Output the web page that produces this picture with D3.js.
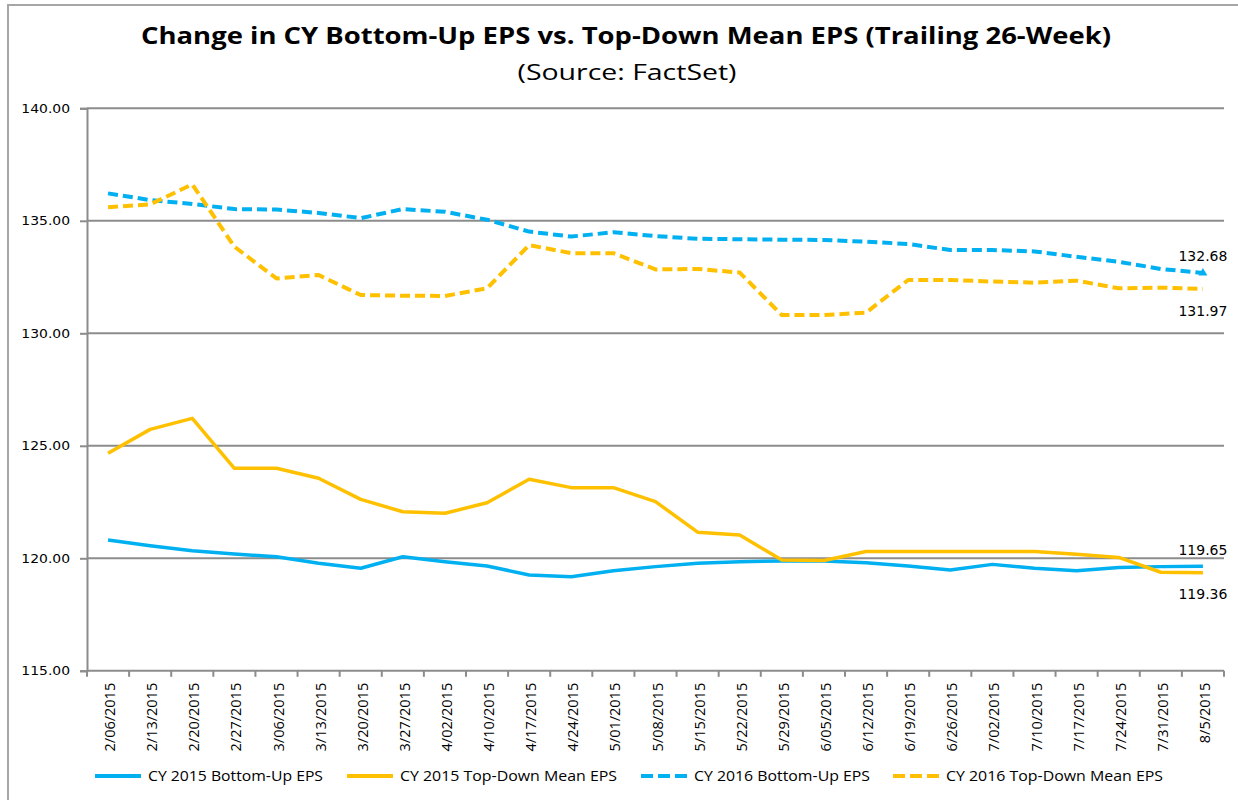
<!DOCTYPE html>
<html>
<head>
<meta charset="utf-8">
<script src="https://cdn.jsdelivr.net/npm/d3@7"></script>
<style>
  body { margin: 0; background: #fff; }
  text { fill: #000; }
</style>
</head>
<body>
<div id="chart"></div>
<script>
const dates = ["2/06/2015","2/13/2015","2/20/2015","2/27/2015","3/06/2015","3/13/2015","3/20/2015",
  "3/27/2015","4/02/2015","4/10/2015","4/17/2015","4/24/2015","5/01/2015","5/08/2015","5/15/2015",
  "5/22/2015","5/29/2015","6/05/2015","6/12/2015","6/19/2015","6/26/2015","7/02/2015","7/10/2015",
  "7/17/2015","7/24/2015","7/31/2015","8/5/2015"];

const cy2015BottomUp = [120.81,120.56,120.34,120.19,120.07,119.78,119.56,120.07,119.85,119.66,119.26,119.18,
  119.45,119.63,119.78,119.85,119.88,119.88,119.80,119.66,119.48,119.73,119.56,119.45,119.59,119.63,119.65];
const cy2015TopDown = [124.67,125.73,126.22,124.00,124.00,123.56,122.62,122.07,122.00,122.47,123.51,123.14,
  123.14,122.52,121.16,121.04,119.92,119.90,120.30,120.30,120.30,120.30,120.30,120.18,120.04,119.38,119.36];
const cy2016BottomUp = [136.22,135.92,135.75,135.52,135.50,135.35,135.12,135.52,135.40,135.05,134.52,134.30,
  134.49,134.32,134.20,134.18,134.16,134.15,134.07,133.97,133.70,133.70,133.64,133.40,133.18,132.86,132.68];
const cy2016TopDown = [135.60,135.73,136.62,133.85,132.44,132.59,131.70,131.67,131.66,132.00,133.92,133.56,
  133.56,132.84,132.86,132.70,130.81,130.81,130.92,132.37,132.37,132.30,132.25,132.34,132.00,132.03,131.97];

const seriesNames = ["CY 2015 Bottom-Up EPS","CY 2015 Top-Down Mean EPS","CY 2016 Bottom-Up EPS","CY 2016 Top-Down Mean EPS"];
const yTicks = [115,120,125,130,135,140];

const blue = "#00B0F0", gold = "#FFC000", grid = "#8c8c8c";

const series = [
  {name: seriesNames[0], values: cy2015BottomUp, color: blue, dash: null},
  {name: seriesNames[1], values: cy2015TopDown, color: gold, dash: null},
  {name: seriesNames[2], values: cy2016BottomUp, color: blue, dash: "10,5"},
  {name: seriesNames[3], values: cy2016TopDown, color: gold, dash: "10,5"}
];

let W = 1238, H = 800;
let svg = d3.select("#chart").append("svg")
  .attr("width", W).attr("height", H)
  .style("font-family", "'Open Sans', sans-serif");

// the source picture is stretched sideways, so text gets widened to match
function widen(sel, k) {
  sel.each(function() {
    let len = this.getComputedTextLength();
    d3.select(this).attr("textLength", len * k).attr("lengthAdjust", "spacingAndGlyphs");
  });
}

// outer frame
svg.append("rect")
  .attr("x", 8).attr("y", 5).attr("width", W + 20).attr("height", H + 20)
  .attr("fill", "none").attr("stroke", "#a6a6a6").attr("stroke-width", 2);

let plotL = 87, plotR = 1224, plotT = 108.3, plotB = 670.8;

let x = d3.scaleBand().domain(dates).range([plotL, plotR]);
let y = d3.scaleLinear().domain([115, 140]).range([plotB, plotT]);
let cx = d => x(d) + x.bandwidth() / 2;

// title
svg.append("text")
  .attr("x", 626).attr("y", 44)
  .attr("text-anchor", "middle")
  .style("font-size", "23px").style("font-weight", "bold")
  .attr("textLength", 970).attr("lengthAdjust", "spacingAndGlyphs")
  .text("Change in CY Bottom-Up EPS vs. Top-Down Mean EPS (Trailing 26-Week)");
svg.append("text")
  .attr("x", 627).attr("y", 80)
  .attr("text-anchor", "middle")
  .style("font-size", "22px")
  .attr("textLength", 219).attr("lengthAdjust", "spacingAndGlyphs")
  .text("(Source: FactSet)");

// gridlines
svg.append("g").selectAll("line")
  .data(yTicks.filter(t => t > 115))
  .enter().append("line")
  .attr("x1", plotL).attr("x2", plotR)
  .attr("y1", d => y(d)).attr("y2", d => y(d))
  .attr("stroke", grid).attr("stroke-width", 2);

// y axis
let yAxis = svg.append("g")
  .attr("transform", "translate(" + plotL + ",0)")
  .call(d3.axisLeft(y).tickValues(yTicks).tickFormat(d3.format(".2f")).tickSize(7).tickPadding(10));
yAxis.select(".domain").attr("stroke", grid).attr("stroke-width", 2);
yAxis.selectAll(".tick line").attr("stroke", grid).attr("stroke-width", 2);
yAxis.selectAll("text")
  .style("font-family", "'DejaVu Sans', sans-serif")
  .style("font-size", "13px").attr("fill", "#000")
  .call(widen, 1.07);

// x axis
svg.append("line")
  .attr("x1", plotL).attr("x2", plotR)
  .attr("y1", plotB).attr("y2", plotB)
  .attr("stroke", grid).attr("stroke-width", 2);
svg.append("g").selectAll("line")
  .data(dates.concat(["end"]))
  .enter().append("line")
  .attr("x1", (d, i) => i < dates.length ? x(d) : plotR)
  .attr("x2", (d, i) => i < dates.length ? x(d) : plotR)
  .attr("y1", plotB).attr("y2", plotB + 6)
  .attr("stroke", grid).attr("stroke-width", 2);

svg.append("g").selectAll("text")
  .data(dates)
  .enter().append("text")
  .attr("transform", d => "translate(" + (cx(d) + 7) + "," + (plotB + 12) + ") rotate(-90)")
  .attr("text-anchor", "end")
  .style("font-size", "14.5px")
  .text(d => d);

// lines
let line = d3.line()
  .x((d, i) => cx(dates[i]))
  .y(d => y(d));

svg.append("g").selectAll("path")
  .data(series)
  .enter().append("path")
  .attr("fill", "none")
  .attr("stroke", d => d.color)
  .attr("stroke-width", d => d.dash ? 4 : 3.5)
  .attr("stroke-dasharray", d => d.dash)
  .attr("stroke-linejoin", "round")
  .attr("d", d => line(d.values));

// end marker on the CY 2016 bottom-up line
let last = dates.length - 1;
svg.append("path")
  .attr("d", d3.symbol().type(d3.symbolTriangle).size(34))
  .attr("transform", "translate(" + cx(dates[last]) + "," + y(cy2016BottomUp[last]) + ")")
  .attr("fill", blue);

// end value labels
let endLabels = [
  {v: cy2016BottomUp[last], dy: -12},
  {v: cy2016TopDown[last], dy: 27},
  {v: cy2015BottomUp[last], dy: -11},
  {v: cy2015TopDown[last], dy: 26}
];
svg.append("g").selectAll("text")
  .data(endLabels)
  .enter().append("text")
  .attr("x", cx(dates[last]))
  .attr("y", d => y(d.v) + d.dy)
  .attr("text-anchor", "middle")
  .style("font-family", "'DejaVu Sans', sans-serif")
  .style("font-size", "14px")
  .attr("fill", "#222")
  .text(d => d3.format(".2f")(d.v));

// legend
let legendX = [95, 347, 641, 893];
let legendTextW = [175, 217, 176, 217];
let legend = svg.append("g").selectAll("g")
  .data(series)
  .enter().append("g")
  .attr("transform", (d, i) => "translate(" + legendX[i] + ",776)");
legend.append("line")
  .attr("x1", 0).attr("x2", 46)
  .attr("stroke", d => d.color)
  .attr("stroke-width", 4)
  .attr("stroke-dasharray", d => d.dash ? "12,5" : null);
legend.append("text")
  .attr("x", 53).attr("y", 5)
  .style("font-size", "14px")
  .attr("textLength", (d, i) => legendTextW[i]).attr("lengthAdjust", "spacingAndGlyphs")
  .text(d => d.name);
</script>
</body>
</html>
